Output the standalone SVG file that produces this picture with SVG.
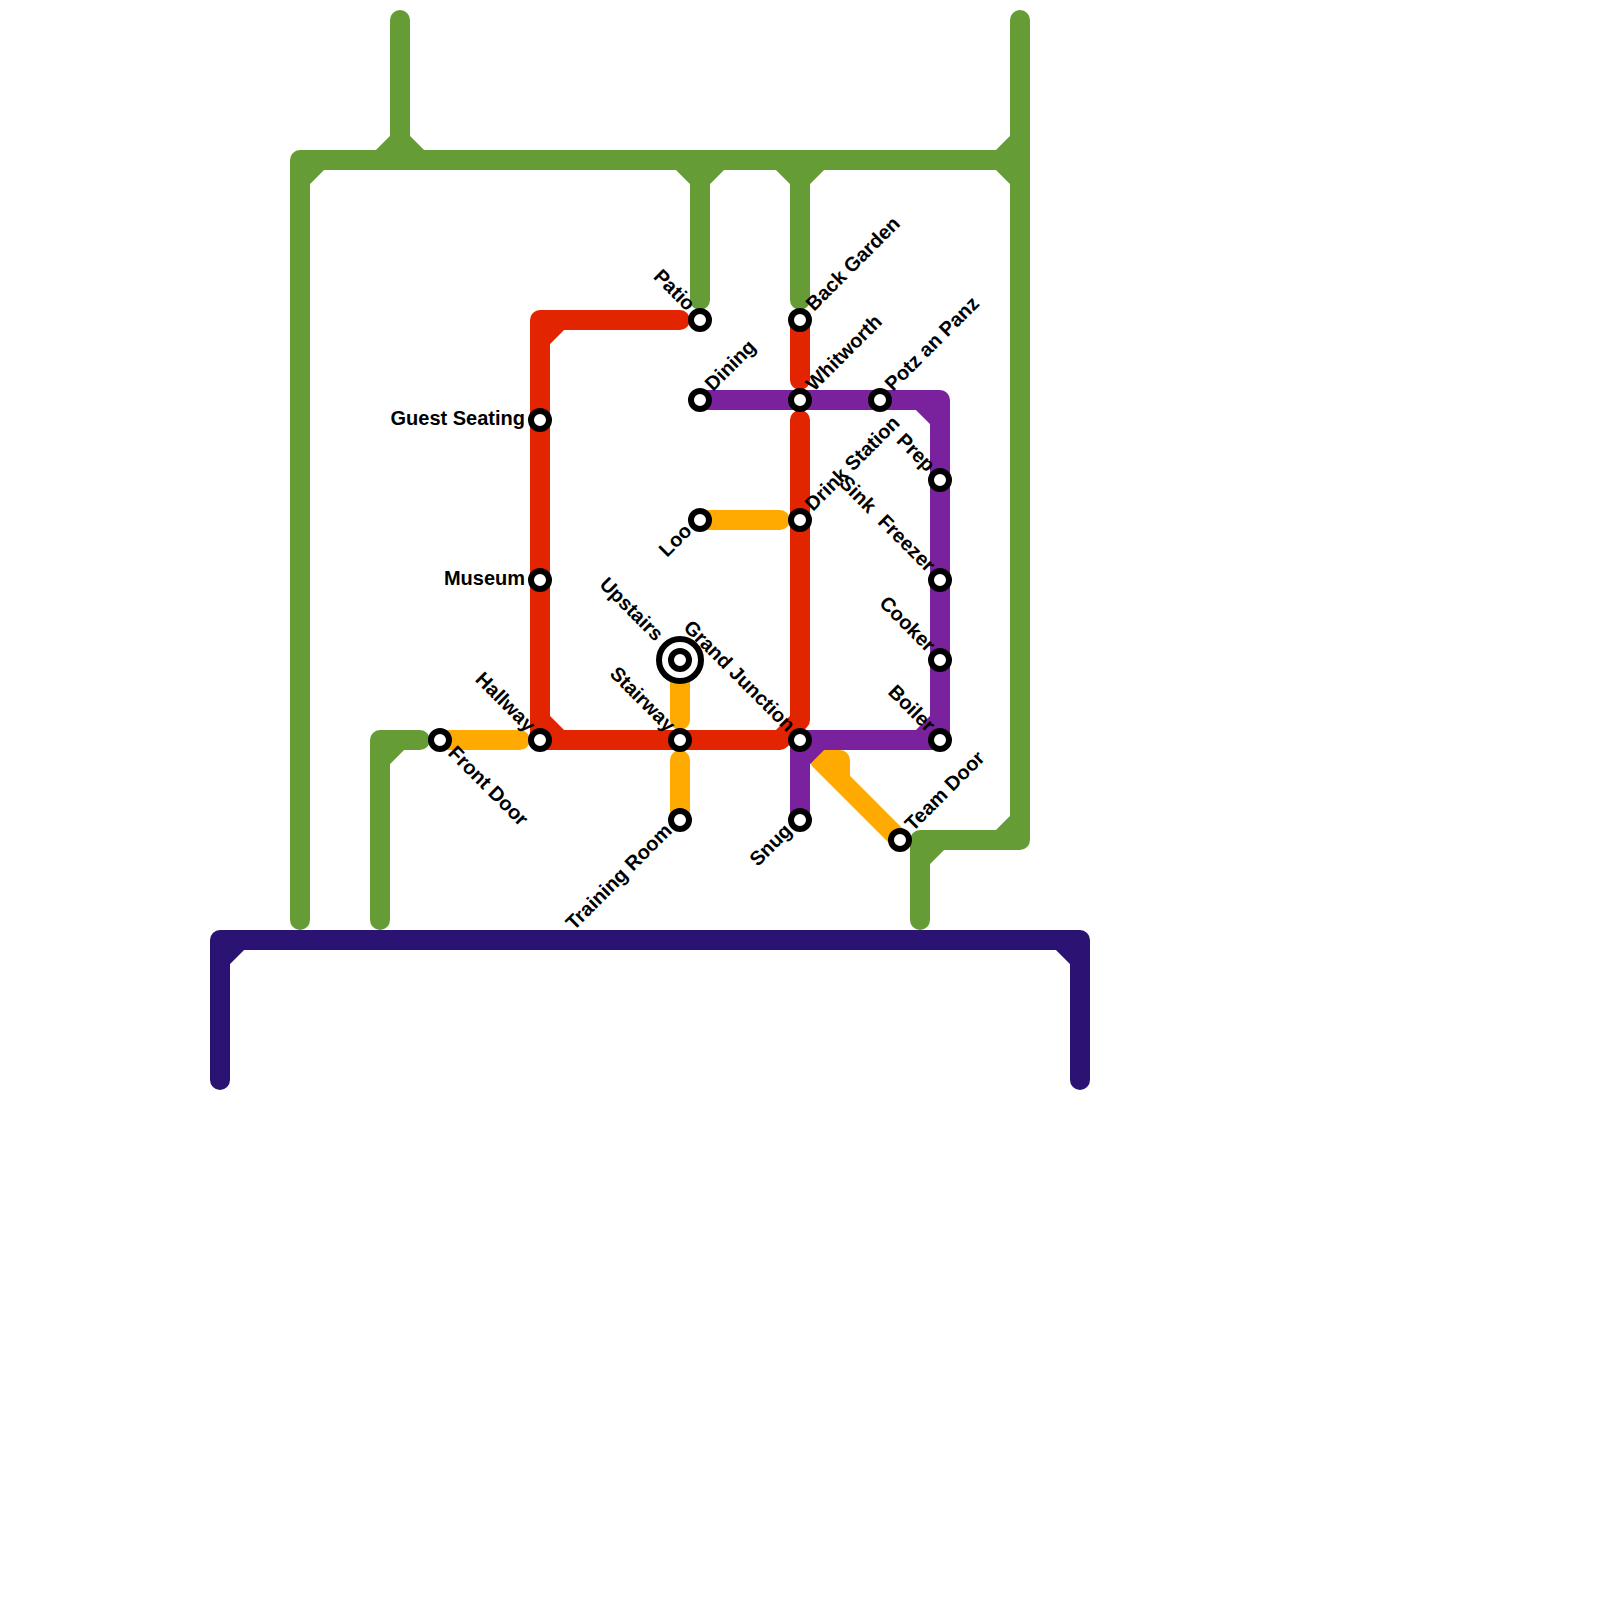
<svg xmlns="http://www.w3.org/2000/svg" width="1600" height="1600" viewBox="0 0 1600 1600">
<style>
.l{fill:none;stroke-width:20;stroke-linecap:round;stroke-linejoin:round}
.g{stroke:#669c35}.r{stroke:#e32400}.p{stroke:#7a219e}.o{stroke:#ffaa00}.n{stroke:#2a1373}
.s{fill:#fff;stroke:#000;stroke-width:6}
text{font-family:"Liberation Sans",Arial,sans-serif;font-weight:700;font-size:20px;fill:#000}
.e{text-anchor:end}
</style>
<rect width="1600" height="1600" fill="#fff"/>
<g id="connectors">
<path class="l g" d="M300 920V160H1020M400 20V160M380 160L400 140L420 160M300 180L320 160M680 160L700 180L720 160M700 170V300M780 160L800 180L820 160M800 170V300M1000 160L1020 140M1000 160L1020 180M1020 20V840H920V920M1000 840L1020 820M920 860L940 840M420 740H380V920M400 740L380 760"/>
<path class="l n" d="M220 1080V940H1080V1080M240 940L220 960M1060 940L1080 960"/>
<path class="l r" d="M680 320H540V740H780M560 320L540 340M540 720L560 740M800 320V380M800 420V720M780 740L800 720"/>
<path class="l o" d="M680 660V720M680 760V820M700 520H780M440 740H520M900 840L820 760H840V780"/>
<path class="l p" d="M700 400H940V740H800V820M920 400L940 420M920 740L940 720M800 760L820 740"/>
</g>
<g id="upstairs"><circle class="s" cx="680" cy="660" r="21"/><circle class="s" cx="680" cy="660" r="9"/><text class="e" transform="translate(655 642) rotate(45)">Upstairs</text></g>
<g id="patio"><circle class="s" cx="700" cy="320" r="9"/><text class="e" transform="translate(687 312) rotate(45)">Patio</text></g>
<g id="back-garden"><circle class="s" cx="800" cy="320" r="9"/><text transform="translate(814 312) rotate(-45)">Back Garden</text></g>
<g id="dining"><circle class="s" cx="700" cy="400" r="9"/><text transform="translate(713 392) rotate(-45)">Dining</text></g>
<g id="whitworth"><circle class="s" cx="800" cy="400" r="9"/><text transform="translate(814 392) rotate(-45)">Whitworth</text></g>
<g id="potz-an-panz"><circle class="s" cx="880" cy="400" r="9"/><text transform="translate(893 392) rotate(-45)">Potz an Panz</text></g>
<g id="prep"><circle class="s" cx="940" cy="480" r="9"/><text class="e" transform="translate(927 473) rotate(45)">Prep</text></g>
<g id="drink-station"><circle class="s" cx="800" cy="520" r="9"/><text transform="translate(813 512) rotate(-45)">Drink Station</text></g>
<g id="sink"><text class="e" transform="translate(868 514) rotate(45)">Sink</text></g>
<g id="loo"><circle class="s" cx="700" cy="520" r="9"/><text class="e" transform="translate(693 532) rotate(-45)">Loo</text></g>
<g id="freezer"><circle class="s" cx="940" cy="580" r="9"/><text class="e" transform="translate(927 573) rotate(45)">Freezer</text></g>
<g id="cooker"><circle class="s" cx="940" cy="660" r="9"/><text class="e" transform="translate(927 653) rotate(45)">Cooker</text></g>
<g id="boiler"><circle class="s" cx="940" cy="740" r="9"/><text class="e" transform="translate(927 733) rotate(45)">Boiler</text></g>
<g id="grand-junction"><circle class="s" cx="800" cy="740" r="9"/><text class="e" transform="translate(787 733) rotate(45)">Grand Junction</text></g>
<g id="stairway"><circle class="s" cx="680" cy="740" r="9"/><text class="e" transform="translate(667 733) rotate(45)">Stairway</text></g>
<g id="training-room"><circle class="s" cx="680" cy="820" r="9"/><text class="e" transform="translate(673 832) rotate(-45)">Training Room</text></g>
<g id="snug"><circle class="s" cx="800" cy="820" r="9"/><text class="e" transform="translate(793 832) rotate(-45)">Snug</text></g>
<g id="team-door"><circle class="s" cx="900" cy="840" r="9"/><text transform="translate(913 832) rotate(-45)">Team Door</text></g>
<g id="front-door"><circle class="s" cx="440" cy="740" r="9"/><text transform="translate(447 754) rotate(45)">Front Door</text></g>
<g id="hallway"><circle class="s" cx="540" cy="740" r="9"/><text class="e" transform="translate(527 733) rotate(45)">Hallway</text></g>
<g id="museum"><circle class="s" cx="540" cy="580" r="9"/><text class="e" x="525" y="585">Museum</text></g>
<g id="guest-seating"><circle class="s" cx="540" cy="420" r="9"/><text class="e" x="525" y="425">Guest Seating</text></g>
</svg>
